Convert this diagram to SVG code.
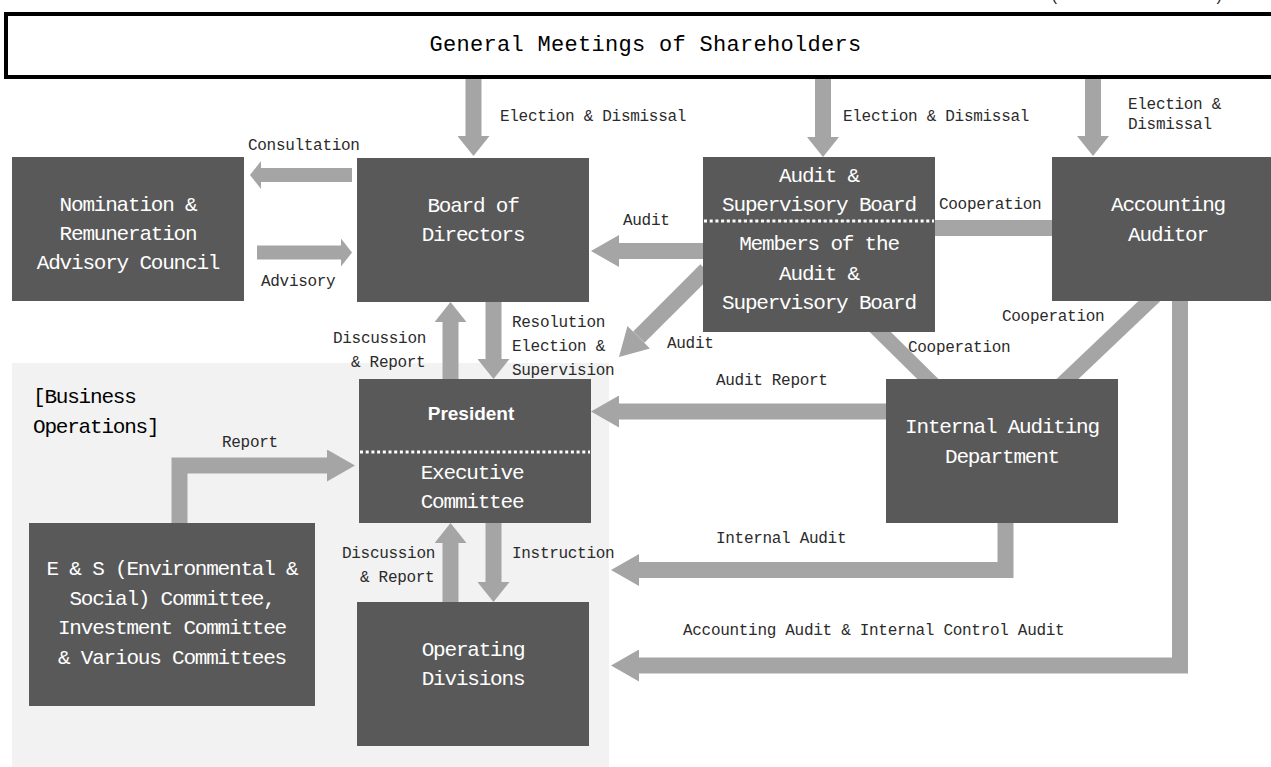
<svg xmlns="http://www.w3.org/2000/svg" width="1271" height="767" viewBox="0 0 1271 767">
<style>
.box{fill:#595959}
.nt{font-family:"Liberation Mono","DejaVu Sans Mono",monospace;font-size:21px;letter-spacing:-1.2px;fill:#fff;text-anchor:middle}
.lb{font-family:"Liberation Mono","DejaVu Sans Mono",monospace;font-size:16px;letter-spacing:-0.3px;fill:#2b2b2b}
.ar{stroke:#a5a5a5;fill:none;stroke-linecap:butt;stroke-linejoin:miter}
.dot{stroke:#fff;stroke-width:3;stroke-dasharray:3 2.7}
</style>
<defs>
<marker id="hS" markerUnits="userSpaceOnUse" markerWidth="20" markerHeight="32" refX="0" refY="16" orient="auto"><path d="M0,0 L20,16 L0,32z" fill="#a5a5a5"/></marker>
<marker id="hL" markerUnits="userSpaceOnUse" markerWidth="28" markerHeight="32" refX="0" refY="16" orient="auto"><path d="M0,0 L28,16 L0,32z" fill="#a5a5a5"/></marker>
<marker id="hT" markerUnits="userSpaceOnUse" markerWidth="11" markerHeight="28" refX="0" refY="14" orient="auto"><path d="M0,0 L11,14 L0,28z" fill="#a5a5a5"/></marker>
</defs>
<rect width="1271" height="767" fill="#fff"/>
<rect id="business-bg" x="12" y="363" width="597" height="404" fill="#f2f2f2"/>
<text class="lb" x="1050" y="1">(</text>
<text class="lb" x="1214" y="1">)</text>
<g id="shareholders">
<rect x="6" y="14" width="1275" height="63" fill="#fff" stroke="#000" stroke-width="4"/>
<text x="645.5" y="51" font-family="Liberation Mono, DejaVu Sans Mono, monospace" font-size="22" letter-spacing="0.3" text-anchor="middle" fill="#000">General Meetings of Shareholders</text>
</g>
<g id="connectors">
<line class="ar" stroke-width="16" x1="473.5" y1="79" x2="473.5" y2="136" marker-end="url(#hS)"/>
<line class="ar" stroke-width="16" x1="823" y1="79" x2="823" y2="137" marker-end="url(#hS)"/>
<line class="ar" stroke-width="16" x1="1093" y1="79" x2="1093" y2="136" marker-end="url(#hS)"/>
<line class="ar" stroke-width="14" x1="352" y1="175" x2="261" y2="175" marker-end="url(#hT)"/>
<line class="ar" stroke-width="14" x1="257" y1="252.5" x2="341" y2="252.5" marker-end="url(#hT)"/>
<line class="ar" stroke-width="16" x1="703" y1="251" x2="619" y2="251" marker-end="url(#hL)"/>
<line class="ar" stroke-width="16" x1="706" y1="270" x2="638.8" y2="337.2" marker-end="url(#hL)"/>
<line class="ar" stroke-width="16" x1="935" y1="228" x2="1052" y2="228"/>
<line class="ar" stroke-width="15" x1="860" y1="312" x2="940" y2="391"/>
<line class="ar" stroke-width="15" x1="1160" y1="291" x2="1058" y2="388"/>
<line class="ar" stroke-width="16" x1="493.5" y1="302" x2="493.5" y2="359" marker-end="url(#hS)"/>
<line class="ar" stroke-width="16" x1="450.5" y1="379" x2="450.5" y2="322" marker-end="url(#hS)"/>
<line class="ar" stroke-width="16" x1="450.5" y1="602" x2="450.5" y2="543" marker-end="url(#hS)"/>
<line class="ar" stroke-width="16" x1="493.5" y1="523" x2="493.5" y2="582" marker-end="url(#hS)"/>
<line class="ar" stroke-width="16" x1="886" y1="411.5" x2="619" y2="411.5" marker-end="url(#hL)"/>
<polyline class="ar" stroke-width="16" points="1005.5,520 1005.5,570 639,570" marker-end="url(#hL)"/>
<polyline class="ar" stroke-width="16" points="1180,295 1180,665.5 639,665.5" marker-end="url(#hL)"/>
<polyline class="ar" stroke-width="16" points="179.5,530 179.5,465.5 327,465.5" marker-end="url(#hL)"/>
</g>
<g id="labels">
<text class="lb" x="500" y="121">Election &amp; Dismissal</text>
<text class="lb" x="843" y="121">Election &amp; Dismissal</text>
<text class="lb" x="1128" y="109">Election &amp;</text>
<text class="lb" x="1128" y="129">Dismissal</text>
<text class="lb" x="248" y="150">Consultation</text>
<text class="lb" x="261" y="286">Advisory</text>
<text class="lb" x="623" y="225">Audit</text>
<text class="lb" x="939" y="209">Cooperation</text>
<text class="lb" x="333" y="343">Discussion</text>
<text class="lb" x="351" y="367">&amp; Report</text>
<text class="lb" x="512" y="327">Resolution</text>
<text class="lb" x="512" y="351">Election &amp;</text>
<text class="lb" x="512" y="375">Supervision</text>
<text class="lb" x="667" y="348">Audit</text>
<text class="lb" x="908" y="352">Cooperation</text>
<text class="lb" x="1002" y="321">Cooperation</text>
<text class="lb" x="716" y="385">Audit Report</text>
<text class="lb" x="222" y="447">Report</text>
<text class="lb" x="342" y="558">Discussion</text>
<text class="lb" x="360" y="582">&amp; Report</text>
<text class="lb" x="512" y="558">Instruction</text>
<text class="lb" x="716" y="543">Internal Audit</text>
<text class="lb" x="683" y="635">Accounting Audit &amp; Internal Control Audit</text>
</g>
<g id="business-title">
<text x="33" y="403" font-family="Liberation Mono, DejaVu Sans Mono, monospace" font-size="21" letter-spacing="-1.2" fill="#000">[Business</text>
<text x="33" y="433" font-family="Liberation Mono, DejaVu Sans Mono, monospace" font-size="21" letter-spacing="-1.2" fill="#000">Operations]</text>
</g>
<g id="nomination">
<rect class="box" x="12" y="157" width="232" height="144"/>
<text class="nt" x="128" y="211">Nomination &amp;</text>
<text class="nt" x="128" y="240">Remuneration</text>
<text class="nt" x="128" y="269">Advisory Council</text>
</g>
<g id="board">
<rect class="box" x="357" y="158" width="232" height="144"/>
<text class="nt" x="473" y="212">Board of</text>
<text class="nt" x="473" y="241">Directors</text>
</g>
<g id="audit-board">
<rect class="box" x="703" y="157" width="232" height="175"/>
<line class="dot" x1="704" y1="221" x2="934" y2="221"/>
<text class="nt" x="819" y="182">Audit &amp;</text>
<text class="nt" x="819" y="211">Supervisory Board</text>
<text class="nt" x="819" y="250">Members of the</text>
<text class="nt" x="819" y="280">Audit &amp;</text>
<text class="nt" x="819" y="309">Supervisory Board</text>
</g>
<g id="accounting-auditor">
<rect class="box" x="1052" y="157" width="225" height="144"/>
<text class="nt" x="1168" y="211">Accounting</text>
<text class="nt" x="1168" y="241">Auditor</text>
</g>
<g id="president">
<rect class="box" x="359" y="379" width="232" height="144"/>
<line class="dot" x1="360" y1="452" x2="590" y2="452"/>
<text x="471" y="420" font-family="Liberation Sans, Arial, sans-serif" font-size="19" font-weight="bold" fill="#fff" text-anchor="middle">President</text>
<text class="nt" x="472" y="479">Executive</text>
<text class="nt" x="472" y="508">Committee</text>
</g>
<g id="internal-auditing">
<rect class="box" x="886" y="379" width="232" height="144"/>
<text class="nt" x="1002" y="433">Internal Auditing</text>
<text class="nt" x="1002" y="463">Department</text>
</g>
<g id="es-committee">
<rect class="box" x="29" y="523" width="286" height="183"/>
<text class="nt" x="172" y="575">E &amp; S (Environmental &amp;</text>
<text class="nt" x="172" y="605">Social) Committee,</text>
<text class="nt" x="172" y="634">Investment Committee</text>
<text class="nt" x="172" y="664">&amp; Various Committees</text>
</g>
<g id="operating-divisions">
<rect class="box" x="357" y="602" width="232" height="144"/>
<text class="nt" x="473" y="656">Operating</text>
<text class="nt" x="473" y="685">Divisions</text>
</g>
</svg>
